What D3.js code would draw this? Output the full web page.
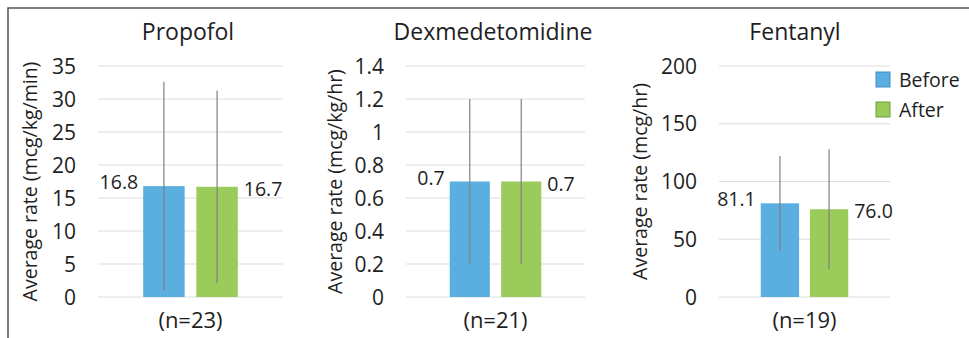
<!DOCTYPE html>
<html>
<head>
<meta charset="utf-8">
<script src="https://cdn.jsdelivr.net/npm/d3@7"></script>
<style>
  body { margin: 0; background: #fff; }
  svg { display: block; font-family: "Open Sans", "Noto Sans", sans-serif; }
</style>
</head>
<body>
<div id="chart"></div>
<script>
// chart values
var drugs = ["Propofol", "Dexmedetomidine", "Fentanyl"];
var yLabels = ["Average rate (mcg/kg/min)", "Average rate (mcg/kg/hr)", "Average rate (mcg/hr)"];
var nLabels = ["(n=23)", "(n=21)", "(n=19)"];
var seriesNames = ["Before", "After"];
var beforeVals = [16.8, 0.7, 81.1];
var afterVals = [16.7, 0.7, 76.0];
var beforeSD = [15.8, 0.5, 41];
var afterSD = [14.6, 0.5, 52];
var valueLabels = [["16.8", "16.7"], ["0.7", "0.7"], ["81.1", "76.0"]];
var yMax = [35, 1.4, 200];
var tickCounts = [7, 7, 4];

var width = 969, height = 338;
var colors = ["#5aaee0", "#9bcb5b"];
var legendStroke = ["#3f8fc4", "#6f9f3a"];

// layout of the three panels (plot area x ranges)
var panelX = [[98, 283], [406, 585], [719, 890]];
var titleX = [188, 493, 795];
var yLabelX = [30, 335, 640];
var yTop = 66, yBottom = 297;

var svg = d3.select("#chart").append("svg")
    .attr("width", width)
    .attr("height", height);

// partial frame
svg.append("path")
    .attr("d", "M8," + height + "V8H" + width)
    .attr("fill", "none")
    .attr("stroke", "#555")
    .attr("stroke-width", 1.5);

drugs.forEach(function(drug, i){
    var g = svg.append("g");
    var y = d3.scaleLinear().domain([0, yMax[i]]).range([yBottom, yTop]);
    var x = d3.scaleBand().domain(seriesNames)
        .range(panelX[i]).paddingInner(0.22).paddingOuter(0.85);
    var fmt = d3.format("~g");

    // gridlines
    g.selectAll("line.grid")
        .data(y.ticks(tickCounts[i]))
        .enter().append("line")
        .attr("class", "grid")
        .attr("x1", panelX[i][0]).attr("x2", panelX[i][1])
        .attr("y1", function(d){ return y(d); })
        .attr("y2", function(d){ return y(d); })
        .attr("stroke", "#dcdcdc")
        .attr("stroke-width", 1);

    // tick labels
    g.selectAll("text.tick")
        .data(y.ticks(tickCounts[i]))
        .enter().append("text")
        .attr("class", "tick")
        .attr("x", panelX[i][0] - 22)
        .attr("y", function(d){ return y(d); })
        .attr("dy", "0.36em")
        .attr("text-anchor", "end")
        .attr("font-size", 21)
        .attr("fill", "#1e1e1e")
        .text(function(d){ return fmt(d); });

    // title
    g.append("text")
        .attr("x", titleX[i]).attr("y", 40)
        .attr("text-anchor", "middle")
        .attr("font-size", 23)
        .attr("fill", "#1e1e1e")
        .text(drug);

    // y label
    g.append("text")
        .attr("transform", "translate(" + yLabelX[i] + "," + ((yTop + yBottom) / 2) + ") rotate(-90)")
        .attr("dy", "0.35em")
        .attr("text-anchor", "middle")
        .attr("font-size", 19.5)
        .attr("fill", "#1e1e1e")
        .text(yLabels[i]);

    var vals = [beforeVals[i], afterVals[i]];
    var sds = [beforeSD[i], afterSD[i]];

    // bars
    g.selectAll("rect.bar")
        .data(seriesNames)
        .enter().append("rect")
        .attr("class", "bar")
        .attr("x", function(d){ return x(d); })
        .attr("width", x.bandwidth())
        .attr("y", function(d, j){ return y(vals[j]); })
        .attr("height", function(d, j){ return yBottom - y(vals[j]); })
        .attr("fill", function(d, j){ return colors[j]; });

    // error bars
    g.selectAll("line.err")
        .data(seriesNames)
        .enter().append("line")
        .attr("class", "err")
        .attr("x1", function(d){ return x(d) + x.bandwidth() / 2; })
        .attr("x2", function(d){ return x(d) + x.bandwidth() / 2; })
        .attr("y1", function(d, j){ return y(vals[j] + sds[j]); })
        .attr("y2", function(d, j){ return y(vals[j] - sds[j]); })
        .attr("stroke", "#808080")
        .attr("stroke-width", 1.2);

    // value labels: left of before bar, right of after bar
    g.selectAll("text.val")
        .data(seriesNames)
        .enter().append("text")
        .attr("class", "val")
        .attr("x", function(d, j){ return j == 0 ? x(d) - 5 : x(d) + x.bandwidth() + 6; })
        .attr("y", function(d, j){ return y(vals[j]) + (j == 0 ? -4 : 2); })
        .attr("dy", "0.36em")
        .attr("text-anchor", function(d, j){ return j == 0 ? "end" : "start"; })
        .attr("font-size", 19.5)
        .attr("fill", "#1e1e1e")
        .text(function(d, j){ return valueLabels[i][j]; });

    // n label
    g.append("text")
        .attr("x", x("Before") + (x("After") + x.bandwidth() - x("Before")) / 2)
        .attr("y", 320)
        .attr("dy", "0.36em")
        .attr("text-anchor", "middle")
        .attr("font-size", 22)
        .attr("fill", "#1e1e1e")
        .text(nLabels[i]);
});

// legend
var legend = svg.append("g").attr("transform", "translate(876,72)");
seriesNames.forEach(function(name, j){
    legend.append("rect")
        .attr("x", 0).attr("y", j * 30)
        .attr("width", 14).attr("height", 15)
        .attr("fill", colors[j])
        .attr("stroke", legendStroke[j])
        .attr("stroke-width", 1);
    legend.append("text")
        .attr("x", 23).attr("y", j * 30 + 8)
        .attr("dy", "0.36em")
        .attr("font-size", 19.5)
        .attr("fill", "#1e1e1e")
        .text(name);
});
</script>
</body>
</html>
